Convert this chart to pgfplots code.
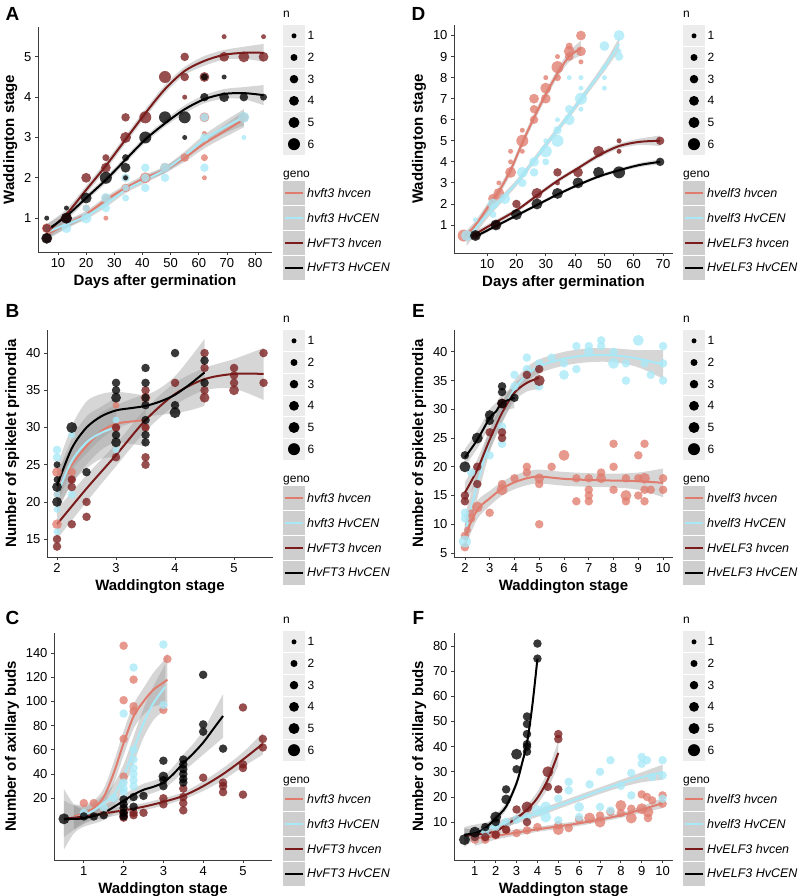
\documentclass[border=0pt]{standalone}
\usepackage{fontspec}
\setmainfont{Liberation Sans}
\usepackage{pgfplots}
\pgfplotsset{compat=1.18}
\usepgfplotslibrary{fillbetween}
\usepackage{pgfplotstable}
\definecolor{cS}{RGB}{224,124,110}
\definecolor{cB}{RGB}{168,233,247}
\definecolor{cR}{RGB}{122,28,28}
\definecolor{cK}{RGB}{0,0,0}
\definecolor{rib}{RGB}{153,153,153}
\definecolor{nkey}{RGB}{236,236,236}
\definecolor{gkey}{RGB}{206,206,206}
\definecolor{axc}{RGB}{60,60,60}
\pgfplotsset{
 panel/.style={scale only axis, anchor=south west,
   axis x line*=bottom, axis y line*=left,
   axis line style={line width=0.9pt, draw=axc},
   every tick/.style={line width=0.8pt, axc}, major tick length=3pt, tick align=outside,
   tick label style={font=\fontsize{13}{13}\selectfont},
   label style={font=\bfseries\fontsize{15}{15}\selectfont},
   /pgf/number format/assume math mode=true, scaled ticks=false, clip=true},
 pts/.style={only marks, mark=*, scatter, forget plot,
   visualization depends on={value \thisrow{n}\as\ptn},
   scatter/use mapped color={draw=#1, draw opacity=0, fill=#1, fill opacity=0.78},
   scatter/@pre marker code/.append style={/tikz/mark size={sqrt(6.25+5.95*(\ptn-1))}}},
 legpts/.style={only marks, mark=*, scatter, forget plot,
   visualization depends on={value \thisrow{n}\as\ptn},
   scatter/use mapped color={draw=black, draw opacity=0, fill=black},
   scatter/@pre marker code/.append style={/tikz/mark size={sqrt(6.25+5.95*(\ptn-1))}}},
 ribbon/.style={fill=rib, fill opacity=0.4, draw=none, forget plot},
}
\newcommand{\pts}[2]{\addplot[pts=#1] table[row sep=\\, x=x, y=y]{x y n\\ #2};}
\newcommand{\grp}[3]{%
 \addplot[draw=none, smooth, name path=U#3, forget plot] table[x=x, y expr=\thisrow{y}+\thisrow{w}] {#1};
 \addplot[draw=none, smooth, name path=L#3, forget plot] table[x=x, y expr=\thisrow{y}-\thisrow{w}] {#1};
 \addplot[ribbon] fill between[of=U#3 and L#3];
 \addplot[#2, line width=2pt, smooth, forget plot] table[x=x, y=y] {#1};
}
\newcommand{\lgd}[6]{%
\begin{axis}[at={(#1pt,-#2pt)}, anchor=north west, scale only axis, width=22pt, height=255pt,
  xmin=0, xmax=22, ymin=0, ymax=255, y dir=reverse, hide axis, clip=false]
 \fill[nkey] (axis cs:0,0) rectangle (axis cs:22,130);
 \draw[white, line width=0.7pt] (axis cs:0,21.67) -- (axis cs:22,21.67) (axis cs:0,43.33) -- (axis cs:22,43.33)
   (axis cs:0,65) -- (axis cs:22,65) (axis cs:0,86.67) -- (axis cs:22,86.67) (axis cs:0,108.33) -- (axis cs:22,108.33);
 \fill[gkey] (axis cs:0,156) rectangle (axis cs:22,255);
 \draw[white, line width=0.7pt] (axis cs:0,180.75) -- (axis cs:22,180.75) (axis cs:0,205.5) -- (axis cs:22,205.5)
   (axis cs:0,230.25) -- (axis cs:22,230.25);
 \addplot[legpts] table[row sep=\\]{x y n\\ 11 10.83 1\\ 11 32.5 2\\ 11 54.17 3\\ 11 75.83 4\\ 11 97.5 5\\ 11 119.17 6\\};
 \addplot[cS, line width=2pt, forget plot] coordinates {(2,168.4) (20,168.4)};
 \addplot[cB, line width=2pt, forget plot] coordinates {(2,193.1) (20,193.1)};
 \addplot[cR, line width=2pt, forget plot] coordinates {(2,217.9) (20,217.9)};
 \addplot[black, line width=2pt, forget plot] coordinates {(2,242.6) (20,242.6)};
 \node[anchor=base west, font=\fontsize{12}{12}\selectfont, inner sep=0pt] at (axis cs:0,-8) {n};
 \node[anchor=west, inner sep=0pt, font=\fontsize{12}{12}\selectfont] at (axis cs:24.5,10.83) {1};
 \node[anchor=west, inner sep=0pt, font=\fontsize{12}{12}\selectfont] at (axis cs:24.5,32.5) {2};
 \node[anchor=west, inner sep=0pt, font=\fontsize{12}{12}\selectfont] at (axis cs:24.5,54.17) {3};
 \node[anchor=west, inner sep=0pt, font=\fontsize{12}{12}\selectfont] at (axis cs:24.5,75.83) {4};
 \node[anchor=west, inner sep=0pt, font=\fontsize{12}{12}\selectfont] at (axis cs:24.5,97.5) {5};
 \node[anchor=west, inner sep=0pt, font=\fontsize{12}{12}\selectfont] at (axis cs:24.5,119.17) {6};
 \node[anchor=base west, font=\fontsize{12}{12}\selectfont, inner sep=0pt] at (axis cs:0,152) {geno};
 \node[anchor=west, inner sep=0pt, font=\itshape\fontsize{12.5}{13}\selectfont] at (axis cs:24,168.4) {#3};
 \node[anchor=west, inner sep=0pt, font=\itshape\fontsize{12.5}{13}\selectfont] at (axis cs:24,193.1) {#4};
 \node[anchor=west, inner sep=0pt, font=\itshape\fontsize{12.5}{13}\selectfont] at (axis cs:24,217.9) {#5};
 \node[anchor=west, inner sep=0pt, font=\itshape\fontsize{12.5}{13}\selectfont] at (axis cs:24,242.6) {#6};
\end{axis}}

\begin{document}
% ---------- smooth curves: x, fitted y, half-width of band ----------
\pgfplotstableread[row sep=\\]{x y w\\ 6 0.6 0.15\\ 13 0.85 0.1\\ 20 1.1 0.08\\ 27 1.45 0.08\\ 34 1.75 0.08\\ 41 2.0 0.08\\ 48 2.2 0.08\\ 55 2.5 0.1\\ 62 2.85 0.12\\ 69 3.15 0.15\\ 76 3.45 0.2\\}\cAS
\pgfplotstableread[row sep=\\]{x y w\\ 6 0.65 0.15\\ 13 0.85 0.1\\ 20 1.05 0.08\\ 27 1.35 0.08\\ 34 1.7 0.08\\ 41 1.95 0.08\\ 48 2.2 0.08\\ 55 2.55 0.1\\ 62 2.95 0.12\\ 69 3.25 0.15\\ 76 3.5 0.2\\}\cAB
\pgfplotstableread[row sep=\\]{x y w\\ 6 0.65 0.2\\ 13 1.1 0.12\\ 20 1.7 0.1\\ 27 2.3 0.1\\ 34 2.95 0.1\\ 41 3.6 0.1\\ 48 4.2 0.1\\ 55 4.65 0.1\\ 62 4.9 0.12\\ 69 5.05 0.12\\ 76 5.1 0.15\\ 83 5.1 0.22\\}\cAR
\pgfplotstableread[row sep=\\]{x y w\\ 6 0.7 0.15\\ 13 1.05 0.1\\ 20 1.5 0.08\\ 27 1.95 0.08\\ 34 2.45 0.08\\ 41 2.95 0.08\\ 48 3.35 0.08\\ 55 3.7 0.1\\ 62 3.95 0.1\\ 69 4.08 0.12\\ 76 4.1 0.15\\ 83 4.05 0.25\\}\cAK
\pgfplotstableread[row sep=\\]{x y w\\ 2 0.4 0.2\\ 6 1.0 0.2\\ 10 1.8 0.2\\ 14 2.6 0.2\\ 18 3.6 0.2\\ 22 4.9 0.2\\ 26 6.1 0.2\\ 30 7.2 0.2\\ 34 8.2 0.2\\ 38 9.0 0.25\\ 42 9.4 0.35\\}\cDS
\pgfplotstableread[row sep=\\]{x y w\\ 3 0.3 0.3\\ 10 1.5 0.2\\ 20 3.0 0.15\\ 30 4.8 0.15\\ 40 6.6 0.15\\ 50 8.5 0.2\\ 55 9.6 0.3\\}\cDB
\pgfplotstableread[row sep=\\]{x y w\\ 4 0.4 0.15\\ 10 0.9 0.12\\ 20 1.7 0.1\\ 27 2.4 0.1\\ 34 3.1 0.1\\ 41 3.7 0.1\\ 48 4.3 0.12\\ 55 4.75 0.12\\ 62 4.95 0.15\\ 69 5.0 0.25\\}\cDR
\pgfplotstableread[row sep=\\]{x y w\\ 6 0.45 0.1\\ 13 0.95 0.08\\ 20 1.45 0.08\\ 27 1.95 0.08\\ 34 2.45 0.08\\ 41 2.9 0.08\\ 48 3.3 0.08\\ 55 3.6 0.08\\ 62 3.85 0.1\\ 69 4.0 0.12\\}\cDK
\pgfplotstableread[row sep=\\]{x y w\\ 2 21.5 2.5\\ 2.25 25 2.5\\ 2.5 27.5 2.5\\ 2.75 29.5 2.5\\ 3 30.5 2.5\\ 3.25 30.8 3\\ 3.5 31 3.5\\}\cBS
\pgfplotstableread[row sep=\\]{x y w\\ 2 21 2.5\\ 2.25 25.5 3\\ 2.5 28 3.5\\ 2.75 29.3 3.5\\ 3 30 4\\}\cBB
\pgfplotstableread[row sep=\\]{x y w\\ 2 17 2\\ 2.5 21.8 1.8\\ 3 26.3 1.5\\ 3.5 31 1.5\\ 4 34.5 1.5\\ 4.5 36.5 1.5\\ 5 37.2 2\\ 5.5 37.2 3.5\\}\cBR
\pgfplotstableread[row sep=\\]{x y w\\ 2 22.2 2.5\\ 2.25 27.2 3\\ 2.5 30 3.5\\ 2.75 31.5 3\\ 3 32.3 2.5\\ 3.25 32.6 2\\ 3.5 32.9 1.5\\ 3.75 33.5 1.8\\ 4 34.4 2.5\\ 4.25 35.8 3.5\\ 4.5 37.4 4.5\\}\cBK
\pgfplotstableread[row sep=\\]{x y w\\ 2 8 2\\ 2.5 12.5 1.6\\ 3 14.5 1.3\\ 3.5 16.2 1.2\\ 4 17.3 1.2\\ 4.5 18 1.2\\ 5 18.3 1.2\\ 6 17.9 1.2\\ 7 17.7 1.2\\ 8 17.6 1.2\\ 9 17.5 1.5\\ 10 17.2 2.5\\}\cES
\pgfplotstableread[row sep=\\]{x y w\\ 2 8.5 3\\ 2.5 17 2.5\\ 3 24.5 2\\ 3.5 29.5 1.8\\ 4 33.5 1.5\\ 4.5 36 1.3\\ 5 37.5 1.2\\ 6 38.8 1.2\\ 7 39.4 1.2\\ 8 39.4 1.2\\ 9 38.8 1.5\\ 10 37.8 2.5\\}\cEB
\pgfplotstableread[row sep=\\]{x y w\\ 2 15.5 1.8\\ 2.5 19.5 1.8\\ 3 24.7 1.8\\ 3.5 29.4 1.8\\ 4 32.9 1.5\\ 4.5 34.6 1.5\\ 5 35.5 2\\}\cER
\pgfplotstableread[row sep=\\]{x y w\\ 2 21.6 1.5\\ 2.5 24.7 1.5\\ 3 28.5 1.5\\ 3.25 29.6 1.5\\ 3.5 31.1 1.5\\ 4 32 1.8\\}\cEK
\pgfplotstableread[row sep=\\]{x y w\\ 0.75 5 10\\ 1 7.6 7\\ 1.25 12 6\\ 1.5 21 7\\ 1.75 40.7 9\\ 2 65.5 10\\ 2.25 87.6 10\\ 2.5 100 11\\ 2.75 109.7 14\\ 3 115.5 18\\ 3.1 118 22\\}\cCS
\pgfplotstableread[row sep=\\]{x y w\\ 0.75 4 10\\ 1 6 7\\ 1.25 10 6\\ 1.5 16 7\\ 1.75 22.8 9\\ 2 38 10\\ 2.25 60 11\\ 2.5 82 12\\ 2.75 98.6 14\\ 3 110 18\\ 3.05 112 20\\}\cCB
\pgfplotstableread[row sep=\\]{x y w\\ 0.5 3 15\\ 1 5 6\\ 1.5 7.5 4\\ 2 10 3\\ 2.5 13 3\\ 3 17 3\\ 3.5 22 3\\ 4 30 4\\ 4.5 40 5\\ 5 52 6\\ 5.5 65 9\\}\cCR
\pgfplotstableread[row sep=\\]{x y w\\ 0.5 2.6 25\\ 0.75 3 12\\ 1 3.5 7\\ 1.5 8 6\\ 2 18 5\\ 2.25 23 5\\ 2.5 27 5\\ 2.75 29.5 5\\ 3 33 5\\ 3.25 40 6\\ 3.5 49 7\\ 3.75 57 8\\ 4 66 10\\ 4.25 77 14\\ 4.5 88 18\\}\cCK
\pgfplotstableread[row sep=\\]{x y w\\ 1 3.5 3\\ 2 4.5 1.5\\ 3 5.8 1.2\\ 4 7.1 1\\ 5 8.3 1\\ 6 9.5 1\\ 7 11 1\\ 8 12.7 1\\ 9 15 1.3\\ 10 17.5 2\\}\cFS
\pgfplotstableread[row sep=\\]{x y w\\ 0.5 4 4\\ 1 6 3\\ 2 8.5 2\\ 3 11 1.5\\ 4 13.5 1.5\\ 5 16.5 1.3\\ 6 19.5 1.3\\ 7 22.5 1.3\\ 8 25.3 1.5\\ 9 27.8 2\\ 10 29.8 3\\}\cFB
\pgfplotstableread[row sep=\\]{x y w\\ 0.5 4.5 3\\ 1 5 2\\ 1.5 5.5 1.5\\ 2 6.3 1.5\\ 2.5 8.9 1.5\\ 3 11.6 1.5\\ 3.5 14.9 2\\ 4 19.6 2.5\\ 4.5 26.9 3.5\\ 5 37.5 5\\}\cFR
\pgfplotstableread[row sep=\\]{x y w\\ 0.5 5 2.5\\ 1 5.6 1.5\\ 1.5 7.6 1.5\\ 2 11.6 1.5\\ 2.5 16.2 1.5\\ 3 25.5 1.5\\ 3.25 33 1.5\\ 3.5 41.5 1.5\\ 3.75 56 2\\ 4 75 2.5\\}\cFK
\begin{tikzpicture}
% ================= A =================
\begin{axis}[panel, at={(38pt,-252pt)}, width=234pt, height=225pt,
  xmin=2.9, xmax=86, ymin=0.16, ymax=5.74, xtick={10,20,...,80}, ytick={1,2,3,4,5},
  xlabel={Days after germination}, ylabel={Waddington stage}]
\pts{cS}{6 0.75 4\\ 6 0.5 2\\ 13 1.0 3\\ 20 1.25 2\\ 27 1.0 1\\ 27 1.5 3\\ 34 1.75 3\\ 34 2.0 2\\ 41 2.0 5\\ 48 2.25 4\\ 55 2.5 3\\ 62 3.5 4\\ 62 3.1 1\\ 62 2.0 1\\ 62 2.5 2\\ 76 3.5 4\\}
\pts{cB}{6 0.5 3\\ 6 0.75 2\\ 13 0.75 4\\ 20 1.0 5\\ 20 1.25 2\\ 27 1.5 4\\ 27 1.25 3\\ 34 2.0 3\\ 34 1.5 2\\ 34 1.75 2\\ 41 2.25 3\\ 41 1.75 3\\ 41 2.0 3\\ 48 2.25 4\\ 48 2.0 3\\ 62 3.0 3\\ 62 3.5 3\\ 62 2.25 3\\ 76 3.5 5\\ 76 3.0 1\\}
\pts{cR}{6 0.75 3\\ 6 0.5 4\\ 13 1.0 5\\ 20 2.0 4\\ 27 2.5 2\\ 27 2.25 4\\ 34 3.5 3\\ 34 3.0 5\\ 41 3.5 6\\ 48 4.5 6\\ 55 5.0 3\\ 55 4.5 3\\ 55 4.0 1\\ 62 4.5 4\\ 69 5.5 1\\ 69 5.0 4\\ 76 5.0 5\\ 83 5.5 1\\ 83 5.0 4\\}
\pts{cK}{6 0.5 5\\ 6 1.0 1\\ 13 1.0 5\\ 13 1.25 1\\ 20 1.5 5\\ 27 2.0 6\\ 34 2.5 2\\ 34 2.25 4\\ 34 2.0 1\\ 41 3.0 6\\ 48 3.5 6\\ 55 3.5 6\\ 55 3.0 1\\ 62 4.5 2\\ 62 4.0 3\\ 69 4.5 1\\ 69 4.0 4\\ 76 4.0 3\\ 83 4.0 2\\}
\grp{\cAS}{cS}{AS}\grp{\cAB}{cB}{AB}\grp{\cAR}{cR}{AR}\grp{\cAK}{cK}{AK}
\end{axis}
% ================= B =================
\begin{axis}[panel, at={(47pt,-557pt)}, width=226pt, height=227pt,
  xmin=1.83, xmax=5.66, ymin=12.6, ymax=43.1, xtick={2,3,4,5}, ytick={15,20,...,40},
  xlabel={Waddington stage}, ylabel={Number of spikelet primordia}]
\pts{cS}{2 24 4\\ 2 17 4\\ 2 21 2\\ 2.25 24 3\\ 2.25 23 2\\ 3 33 2\\ 3 30 3\\ 3.5 34 4\\ 3.5 30 2\\}
\pts{cB}{2 27 3\\ 2 26 3\\ 2 21 2\\ 2 19 2\\ 2 16 2\\ 2.25 29 2\\ 2.25 21 3\\ 3 27 2\\ 3 31 2\\}
\pts{cR}{2 15 3\\ 2 14 3\\ 2.25 17 3\\ 2.25 22 3\\ 2.25 23 3\\ 2.5 20 3\\ 2.5 18 3\\ 3 30 3\\ 3 26 3\\ 3.5 35 3\\ 3.5 30 3\\ 3.5 26 3\\ 3.5 25 3\\ 4 36 3\\ 4.5 40 3\\ 4.5 38 3\\ 4.5 35 3\\ 4.5 34 4\\ 5 38 3\\ 5 37 3\\ 5 36 3\\ 5 35 4\\ 5.5 40 3\\ 5.5 36 3\\}
\pts{cK}{2 25 2\\ 2 23 2\\ 2 22 4\\ 2 20 4\\ 2.25 30 5\\ 2.5 24 3\\ 3 36 3\\ 3 35 3\\ 3 34 4\\ 3 29 3\\ 3 28 4\\ 3.5 38 3\\ 3.5 36 3\\ 3.5 34 3\\ 3.5 33 3\\ 3.5 31 3\\ 3.5 29 3\\ 3.5 28 3\\ 4 40 3\\ 4 33 3\\ 4 32 5\\ 4.5 39 3\\ 4.5 36 3\\}
\grp{\cBS}{cS}{BS}\grp{\cBB}{cB}{BB}\grp{\cBR}{cR}{BR}\grp{\cBK}{cK}{BK}
\end{axis}
% ================= C =================
\begin{axis}[panel, at={(54pt,-860pt)}, width=218pt, height=227pt,
  xmin=0.25, xmax=5.73, ymin=-31, ymax=156.5, xtick={1,2,3,4,5}, ytick={20,40,...,140},
  xlabel={Waddington stage}, ylabel={Number of axillary buds}]
\pts{cS}{1 16 3\\ 1.25 16 3\\ 1.5 8 3\\ 2 146 3\\ 2 101 3\\ 2 69 3\\ 2 38 3\\ 2 10 3\\ 2.25 118 3\\ 2.25 96 3\\ 2.25 92 3\\ 3 93 3\\ 3.1 135 3\\}
\pts{cB}{1 8 3\\ 1.5 12 3\\ 1.75 20 3\\ 2 90 3\\ 2 33 3\\ 2 28 3\\ 2 25 3\\ 2.25 128 3\\ 2.25 60 3\\ 2.25 52 3\\ 2.25 45 3\\ 2.25 40 3\\ 2.25 35 3\\ 2.25 30 3\\ 3 147 3\\ 3 97 3\\}
\pts{cR}{2 8 3\\ 2 6 3\\ 2 4 3\\ 2.25 8 3\\ 2.25 6 3\\ 2.5 8 3\\ 3 20 3\\ 3 15 3\\ 3.5 28 3\\ 3.5 21 3\\ 3.5 16 3\\ 3.5 10 3\\ 4 37 3\\ 4.5 33 3\\ 4.5 30 3\\ 4.5 25 3\\ 5 95 3\\ 5 48 3\\ 5 45 3\\ 5 23 3\\ 5.5 69 3\\ 5.5 62 3\\}
\pts{cK}{0.5 3 5\\ 1 5 3\\ 1.25 5 3\\ 1.5 6 3\\ 2 19 3\\ 2 15 3\\ 2 12 3\\ 2 8 3\\ 2 5 3\\ 2.25 21 3\\ 2.25 13 3\\ 2.5 22 3\\ 3 51 3\\ 3 38 4\\ 3 35 3\\ 3 30 3\\ 3.5 52 3\\ 3.5 48 3\\ 3.5 44 3\\ 3.5 40 3\\ 3.5 36 3\\ 3.5 33 3\\ 4 122 3\\ 4 81 3\\ 4 75 3\\ 4.5 61 3\\}
\grp{\cCS}{cS}{CS}\grp{\cCB}{cB}{CB}\grp{\cCR}{cR}{CR}\grp{\cCK}{cK}{CK}
\end{axis}
% ================= D =================
\begin{axis}[panel, at={(454pt,-253pt)}, width=219pt, height=228pt,
  xmin=-1.3, xmax=73.4, ymin=-0.33, ymax=10.5, xtick={10,20,...,70}, ytick={1,2,...,10},
  xlabel={Days after germination}, ylabel={Waddington stage}]
\pts{cS}{2 0.5 6\\ 12 2.25 4\\ 14 2.5 5\\ 14 3.0 1\\ 18 3.5 5\\ 18 4.0 1\\ 18 4.5 1\\ 22 5.0 6\\ 22 5.5 1\\ 22 4.5 1\\ 26 7.0 4\\ 26 6.5 3\\ 26 6.0 3\\ 30 7.5 5\\ 30 7.0 4\\ 30 8.0 1\\ 34 8.5 6\\ 34 9.0 1\\ 34 8.0 2\\ 38 9.25 5\\ 38 9.5 2\\ 38 9.0 3\\ 42 10.0 4\\ 42 9.25 4\\ 42 8.75 1\\}
\pts{cB}{3 0.5 5\\ 6 1.25 1\\ 12 2.0 5\\ 12 1.5 2\\ 16 2.25 5\\ 22 3.5 5\\ 22 3.0 3\\ 26 4.0 4\\ 26 3.5 3\\ 30 4.5 6\\ 30 5.0 1\\ 30 4.0 2\\ 34 5.0 6\\ 34 5.5 3\\ 34 6.0 1\\ 38 6.5 3\\ 38 6.0 5\\ 38 8.0 1\\ 42 7.0 6\\ 42 6.5 1\\ 42 7.5 1\\ 42 8.0 1\\ 50 9.5 4\\ 50 8.5 1\\ 50 8.0 1\\ 50 7.5 1\\ 55 10.0 5\\ 55 9.25 1\\ 55 9.0 3\\}
\pts{cR}{6 0.5 3\\ 13 1.0 3\\ 20 2.0 3\\ 27 2.5 5\\ 34 3.5 3\\ 34 3.0 1\\ 41 3.5 4\\ 48 4.5 5\\ 55 5.0 1\\ 55 4.5 1\\ 69 5.0 3\\}
\pts{cK}{6 0.5 5\\ 13 1.0 5\\ 20 1.5 5\\ 27 2.0 5\\ 34 2.5 5\\ 41 3.0 5\\ 48 3.5 5\\ 55 3.5 6\\ 69 4.0 3\\}
\grp{\cDS}{cS}{DS}\grp{\cDB}{cB}{DB}\grp{\cDR}{cR}{DR}\grp{\cDK}{cK}{DK}
\end{axis}
% ================= E =================
\begin{axis}[panel, at={(454pt,-557pt)}, width=219pt, height=227pt,
  xmin=1.56, xmax=10.4, ymin=4.3, ymax=43.8, xtick={2,3,...,10}, ytick={5,10,...,40},
  xlabel={Waddington stage}, ylabel={Number of spikelet primordia}]
\pts{cS}{2 6 3\\ 2 8 3\\ 2.1 9 2\\ 2.25 11 3\\ 2.25 12 2\\ 2.5 13 5\\ 3 12 3\\ 3.5 16 5\\ 3.5 17 3\\ 4 18 3\\ 4.5 20 3\\ 4.5 19 3\\ 5 10 3\\ 5 18 4\\ 5 17 3\\ 5.5 20 3\\ 6 22 5\\ 6.5 14 3\\ 6.5 18 3\\ 7 18 3\\ 7 16 3\\ 7 15 3\\ 7 14 3\\ 7.5 19 3\\ 7.5 18 4\\ 8 24 3\\ 8 20 3\\ 8 16 3\\ 8.5 18 3\\ 8.5 15 5\\ 8.5 14 3\\ 9 22 3\\ 9 15 3\\ 9 18 3\\ 9.25 24 3\\ 9.25 18 5\\ 9.25 16 3\\ 9.25 14 3\\ 9.5 16 3\\ 10 18 3\\ 10 16 3\\}
\pts{cB}{2 7 6\\ 2 11 3\\ 2 12 3\\ 2.25 19 3\\ 3 22 3\\ 3.5 24 3\\ 3.5 27 3\\ 4 36 3\\ 4 34 3\\ 4.5 37 3\\ 4.5 39 3\\ 5 38 3\\ 5 34 3\\ 5.5 39 3\\ 6 36 4\\ 6 38 3\\ 6.5 41 3\\ 6.5 37 3\\ 7 41 3\\ 7 40 4\\ 7.5 42 3\\ 7.5 41 3\\ 8 40 3\\ 8 38 5\\ 8.5 38 3\\ 8.5 35 3\\ 9 42 5\\ 9.25 38 3\\ 9.5 36 3\\ 10 41 3\\ 10 38 3\\ 10 35 3\\}
\pts{cR}{2 15 3\\ 2 14 3\\ 2.5 20 3\\ 2.5 17 3\\ 3 26 3\\ 3.5 26 3\\ 3.5 25 3\\ 3.5 31 4\\ 4.5 36 3\\ 5 35 5\\ 5 37 3\\}
\pts{cK}{2 22 3\\ 2 20 5\\ 2.5 25 5\\ 3 29 4\\ 3 28 3\\ 3.5 34 3\\ 3.5 33 3\\ 3.5 31 4\\ 4 32 3\\}
\grp{\cES}{cS}{ES}\grp{\cEB}{cB}{EB}\grp{\cER}{cR}{ER}\grp{\cEK}{cK}{EK}
\end{axis}
% ================= F =================
\begin{axis}[panel, at={(454pt,-860pt)}, width=219pt, height=227pt,
  xmin=0, xmax=10.5, ymin=-5.1, ymax=85.2, xtick={1,2,...,10}, ytick={10,20,...,80},
  xlabel={Waddington stage}, ylabel={Number of axillary buds}]
\pts{cS}{1 3 3\\ 1.5 3 3\\ 2 5 4\\ 2.5 6.7 3\\ 3 5.6 3\\ 3.5 6.7 3\\ 4 8 3\\ 5 7 5\\ 5 8.7 3\\ 5.5 7.6 3\\ 6 11 3\\ 6.5 11.6 5\\ 7 10 5\\ 7 12.6 3\\ 7.5 14 3\\ 8 16.6 5\\ 8 13.6 3\\ 8.5 15.3 3\\ 8.5 11.6 5\\ 9 21 3\\ 9 15.3 5\\ 9.25 20 3\\ 9.3 14 5\\ 9.3 11.6 3\\ 9.5 18.6 3\\ 10 20.6 3\\ 10 17.3 3\\}
\pts{cB}{1 4 3\\ 1.5 6 3\\ 2 8 3\\ 2.5 10 3\\ 3 11 3\\ 3.5 12 3\\ 4 14.6 5\\ 4.4 16 5\\ 4.4 12 5\\ 5 19.3 3\\ 5 10.7 3\\ 5.5 22.6 3\\ 5.5 26 3\\ 6 16 4\\ 6 12 3\\ 6.5 25 3\\ 7 30 3\\ 7 16 3\\ 7.5 34.6 3\\ 7.5 14.6 3\\ 8 24.4 3\\ 8.5 29.5 3\\ 8.5 20.6 3\\ 9 35.9 3\\ 9 33.2 3\\ 9.25 34.6 3\\ 9.5 27.9 3\\ 10 34.6 3\\ 10 28.6 3\\ 10 19.3 3\\}
\pts{cR}{1 4 3\\ 1.5 4 3\\ 2 5 3\\ 2.5 7 3\\ 3 15 3\\ 3.5 16 5\\ 3.5 10 3\\ 4.5 30 5\\ 4.5 24 3\\ 5 45 3\\ 5 43 3\\ 5 23 3\\}
\pts{cK}{0.5 3 5\\ 1 6 5\\ 1.5 8 3\\ 2 12 5\\ 2 10 3\\ 2.5 23 3\\ 2.5 19 4\\ 3 37 5\\ 3 31 3\\ 3.5 52 3\\ 3.5 49 3\\ 3.5 45 3\\ 3.5 41 3\\ 3.5 40 3\\ 3.5 38 3\\ 4 81 3\\ 4 75 3\\}
\grp{\cFS}{cS}{FS}\grp{\cFB}{cB}{FB}\grp{\cFR}{cR}{FR}\grp{\cFK}{cK}{FK}
\end{axis}
% ================= legends =================
\lgd{283}{25}{hvft3 hvcen}{hvft3 HvCEN}{HvFT3 hvcen}{HvFT3 HvCEN}
\lgd{283}{330}{hvft3 hvcen}{hvft3 HvCEN}{HvFT3 hvcen}{HvFT3 HvCEN}
\lgd{283}{631}{hvft3 hvcen}{hvft3 HvCEN}{HvFT3 hvcen}{HvFT3 HvCEN}
\lgd{683}{25}{hvelf3 hvcen}{hvelf3 HvCEN}{HvELF3 hvcen}{HvELF3 HvCEN}
\lgd{683}{330}{hvelf3 hvcen}{hvelf3 HvCEN}{HvELF3 hvcen}{HvELF3 HvCEN}
\lgd{683}{631}{hvelf3 hvcen}{hvelf3 HvCEN}{HvELF3 hvcen}{HvELF3 HvCEN}
% ================= panel letters =================
\node[font=\bfseries\fontsize{19}{19}\selectfont] at (12.5pt,-14pt) {A};
\node[font=\bfseries\fontsize{19}{19}\selectfont] at (12.5pt,-311pt) {B};
\node[font=\bfseries\fontsize{19}{19}\selectfont] at (12.5pt,-618pt) {C};
\node[font=\bfseries\fontsize{19}{19}\selectfont] at (418.5pt,-14pt) {D};
\node[font=\bfseries\fontsize{19}{19}\selectfont] at (418.5pt,-311pt) {E};
\node[font=\bfseries\fontsize{19}{19}\selectfont] at (418.5pt,-618pt) {F};
\pgfresetboundingbox
\useasboundingbox (0,0) rectangle (800pt,-896pt);
\end{tikzpicture}
\end{document}
